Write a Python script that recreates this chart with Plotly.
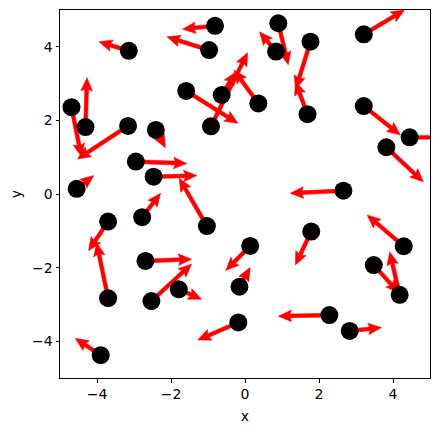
import math
import plotly.graph_objects as go

# point positions
px = [-4.69, -4.31, -3.16, -3.14, -2.41, -2.95, -2.47, -4.55, -0.81, -0.97,
      -1.59, -0.63, -0.92, 0.90, 0.84, 1.77, 1.69, 0.36, 3.21, 3.21,
      4.45, 3.82, 2.66, -3.70, -2.78, -1.03, -3.70, -2.69, -2.53, -1.79,
      -3.90, -0.18, 0.14, -0.15, 1.79, 4.29, 3.48, 4.18, 2.28, 2.83]
py = [2.36, 1.82, 1.85, 3.89, 1.74, 0.88, 0.47, 0.14, 4.57, 3.91,
      2.80, 2.69, 1.84, 4.64, 3.87, 4.14, 2.17, 2.46, 4.34, 2.39,
      1.54, 1.27, 0.09, -0.75, -0.63, -0.87, -2.83, -1.82, -2.91, -2.59,
      -4.38, -3.49, -1.41, -2.52, -1.02, -1.42, -1.93, -2.74, -3.29, -3.72]
# arrow vectors
u = [0.27, 0.04, -1.37, -0.81, 0.26, 1.38, 1.17, 0.46, -0.88, -1.14,
     1.40, 0.39, 0.99, 0.27, -0.45, -0.40, -0.33, -0.66, 1.10, 0.99,
     1.00, 1.00, -1.44, -0.53, 0.50, -0.75, -0.31, 1.25, 1.09, 0.62,
     -0.69, -1.10, -0.66, 0.29, -0.43, -0.99, 0.68, -0.27, -1.38, 0.86]
v = [-1.35, 1.34, -0.90, 0.25, -0.48, -0.05, 0.03, 0.36, -0.09, 0.36,
     -0.88, 0.63, 2.00, -1.13, 0.54, -1.29, 0.88, 0.91, 0.66, -0.79,
     0.00, -0.94, -0.07, -0.79, 0.65, 1.30, 1.50, 0.05, 1.01, -0.27,
     0.46, -0.48, -0.67, 0.52, -0.91, 0.85, -0.76, 1.17, -0.03, 0.09]

tick_vals = [-4, -2, 0, 2, 4]
tick_text = ["\u22124", "\u22122", "0", "2", "4"]

# quiver-style arrow geometry (in axis units; axes have equal scale)
SHAFT_HALF = 0.052
HEAD_HALF = 0.158
HEAD_LEN = 0.36
HEAD_AXIS = 0.32

ax_, ay_ = [], []
for x0, y0, du, dv in zip(px, py, u, v):
    L = math.hypot(du, dv)
    dx, dy = du / L, dv / L
    nx, ny = -dy, dx
    pts = [
        (x0 + nx * SHAFT_HALF, y0 + ny * SHAFT_HALF),
        (x0 + dx * (L - HEAD_AXIS) + nx * SHAFT_HALF, y0 + dy * (L - HEAD_AXIS) + ny * SHAFT_HALF),
        (x0 + dx * (L - HEAD_LEN) + nx * HEAD_HALF, y0 + dy * (L - HEAD_LEN) + ny * HEAD_HALF),
        (x0 + du, y0 + dv),
        (x0 + dx * (L - HEAD_LEN) - nx * HEAD_HALF, y0 + dy * (L - HEAD_LEN) - ny * HEAD_HALF),
        (x0 + dx * (L - HEAD_AXIS) - nx * SHAFT_HALF, y0 + dy * (L - HEAD_AXIS) - ny * SHAFT_HALF),
        (x0 - nx * SHAFT_HALF, y0 - ny * SHAFT_HALF),
    ]
    pts.append(pts[0])
    for a, b in pts:
        ax_.append(a)
        ay_.append(b)
    ax_.append(None)
    ay_.append(None)

fig = go.Figure()
fig.add_trace(go.Scatter(
    x=ax_, y=ay_, mode="lines", fill="toself", fillcolor="#ff0000",
    line=dict(color="#ff0000", width=0.5),
    hoverinfo="skip", showlegend=False))

fig.add_trace(go.Scatter(
    x=px, y=py, mode="markers",
    marker=dict(color="black", size=18, line=dict(width=0)),
    showlegend=False))

font = dict(family="DejaVu Sans", size=14, color="black")
axis_common = dict(
    range=[-5, 5], showgrid=False, zeroline=False, automargin=False,
    showline=True, linecolor="black", linewidth=1, mirror=True,
    ticks="outside", ticklen=3.5, tickwidth=1, tickcolor="black",
    tickvals=tick_vals, ticktext=tick_text, tickfont=font,
)
fig.update_xaxes(**axis_common, title=dict(text="x", font=font, standoff=9))
fig.update_yaxes(**axis_common, title=dict(text="y", font=font, standoff=10))

# page body has an 8px margin; figure sized so the plot area lands at 60..430 x 10..378
fig.update_layout(
    width=431, height=424,
    margin=dict(l=52, r=9, t=2, b=54),
    paper_bgcolor="white", plot_bgcolor="white",
    showlegend=False,
)
fig.write_html("out.html")
